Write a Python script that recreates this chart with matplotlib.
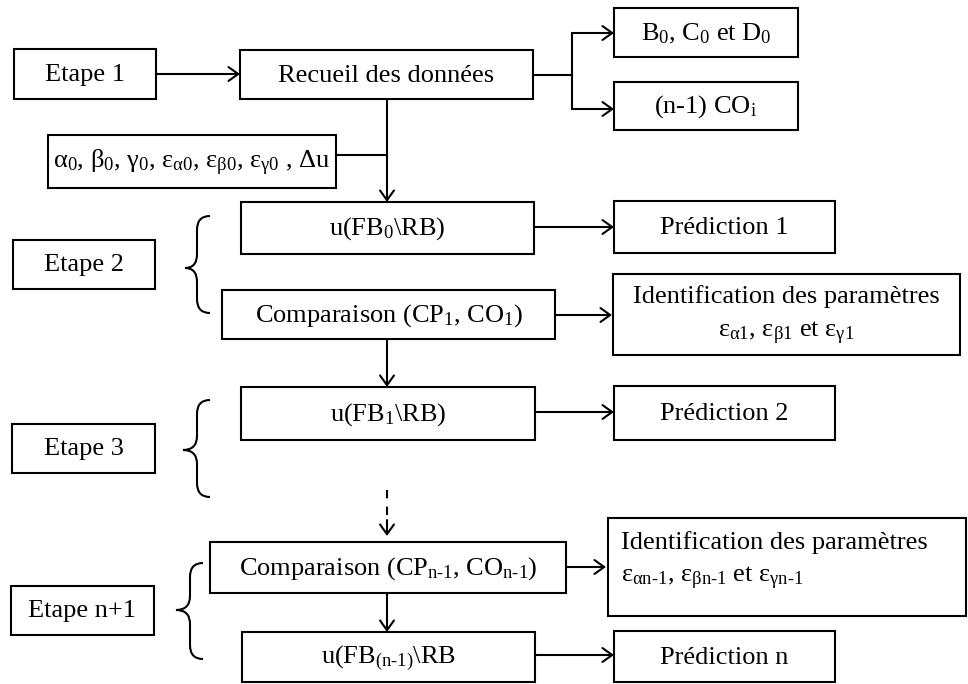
import matplotlib.pyplot as plt
from matplotlib.patches import Rectangle, FancyArrowPatch, PathPatch
from matplotlib.path import Path

plt.rcParams['font.family'] = ['Liberation Serif', 'DejaVu Serif']
plt.rcParams['mathtext.fontset'] = 'custom'
plt.rcParams['mathtext.rm'] = 'Liberation Serif'
plt.rcParams['mathtext.it'] = 'Liberation Serif:italic'
plt.rcParams['mathtext.bf'] = 'Liberation Serif:bold'

# box labels
step_labels = ['Etape 1', 'Etape 2', 'Etape 3', 'Etape n+1']
main_labels = ['Recueil des données',
               r'u(FB$_0$\RB)',
               r'Comparaison (CP$_1$, CO$_1$)',
               r'u(FB$_1$\RB)',
               r'Comparaison (CP$_{\mathrm{n‐1}}$, CO$_{\mathrm{n‐1}}$)',
               r'u(FB$_{\mathrm{(n‐1)}}$\RB']
data_labels = [r'B$_0$, C$_0$ et D$_0$', r'(n-1) CO$_\mathrm{i}$']
init_label = r'α$_0$, β$_0$, γ$_0$, ε$_{\mathrm{α0}}$, ε$_{\mathrm{β0}}$, ε$_{\mathrm{γ0}}$ , Δu'
pred_labels = ['Prédiction 1', 'Prédiction 2', 'Prédiction n']
ident_title = 'Identification des paramètres'
ident_params = [r'ε$_{\mathrm{α1}}$, ε$_{\mathrm{β1}}$ et ε$_{\mathrm{γ1}}$',
                r'ε$_{\mathrm{αn‐1}}$, ε$_{\mathrm{βn‐1}}$ et ε$_{\mathrm{γn‐1}}$']

# geometry (pixels): x0, y0, x1, y1
step_boxes = [(14, 49, 156, 99), (13, 240, 155, 289), (12, 424, 155, 473), (11, 586, 154, 635)]
main_boxes = [(240, 50, 533, 99), (241, 202, 534, 254), (222, 290, 555, 339),
              (241, 387, 535, 440), (210, 542, 566, 593), (242, 632, 535, 682)]
data_boxes = [(614, 8, 798, 57), (614, 82, 798, 130)]
init_box = (48, 135, 336, 188)
pred_boxes = [(614, 201, 835, 253), (614, 386, 835, 440), (614, 631, 835, 682)]
ident_boxes = [(613, 274, 960, 355), (608, 518, 966, 616)]
braces = [(210, 197, 185, 216, 268, 313), (210, 197, 183, 400, 450, 497),
          (203, 190, 176, 563, 610, 659)]

fig = plt.figure(figsize=(9.68, 6.84), dpi=100)
ax = fig.add_axes([0, 0, 1, 1])
ax.set_xlim(0, 968)
ax.set_ylim(684, 0)
ax.axis('off')

FS = 19
LW = 1.5


def box(b, label=None, fs=FS):
    x0, y0, x1, y1 = b
    ax.add_patch(Rectangle((x0, y0), x1 - x0, y1 - y0, fill=False, lw=LW, ec='black'))
    if label is not None:
        ax.text((x0 + x1) / 2, (y0 + y1) / 2 + 1, label, ha='center', va='center', fontsize=fs)


def arrow(p0, p1, ls='-'):
    ax.add_patch(FancyArrowPatch(p0, p1, arrowstyle='->,head_length=7,head_width=5',
                                 lw=LW, color='black', shrinkA=0, shrinkB=0,
                                 mutation_scale=1, linestyle=ls))


def line(xs, ys, ls='-'):
    ax.plot(xs, ys, color='black', lw=LW, ls=ls, solid_capstyle='projecting')


def brace(xr, xb, xl, yt, ym, yb):
    r = 14
    verts = [(xr, yt), (xb, yt), (xb, yt + r),
             (xb, ym - r), (xb, ym), (xl, ym),
             (xb, ym), (xb, ym + r),
             (xb, yb - r), (xb, yb), (xr, yb)]
    codes = [Path.MOVETO, Path.CURVE3, Path.CURVE3,
             Path.LINETO, Path.CURVE3, Path.CURVE3,
             Path.CURVE3, Path.CURVE3,
             Path.LINETO, Path.CURVE3, Path.CURVE3]
    ax.add_patch(PathPatch(Path(verts, codes), fill=False, lw=LW, ec='black'))


for b, t in zip(step_boxes, step_labels):
    box(b, t)
for b, t in zip(main_boxes, main_labels):
    box(b, t)
for b, t in zip(data_boxes, data_labels):
    box(b, t)
box(init_box, init_label)
for b, t in zip(pred_boxes, pred_labels):
    box(b, t)

# identification boxes
b = ident_boxes[0]
box(b)
cx = (b[0] + b[2]) / 2
ax.text(cx, 297, ident_title, ha='center', va='center', fontsize=FS)
ax.text(cx, 333, ident_params[0], ha='center', va='center', fontsize=FS)
b = ident_boxes[1]
box(b)
ax.text(621, 543, ident_title, ha='left', va='center', fontsize=FS)
ax.text(621, 578, ident_params[1], ha='left', va='center', fontsize=FS)

for br in braces:
    brace(*br)

xc = 387
# Etape 1 -> Recueil
arrow((156, 74), (240, 74))
# Recueil -> data boxes
line([533, 572], [75, 75])
line([572, 572], [33, 109])
arrow((572, 33), (614, 33))
arrow((572, 109), (614, 109))
# vertical chain
line([336, xc], [155, 155])
arrow((xc, 99), (xc, 202))
arrow((534, 227), (614, 227))
arrow((555, 315), (612, 315))
arrow((xc, 339), (xc, 387))
arrow((535, 412), (614, 412))
line([xc, xc], [490, 522], ls=(0, (4, 4)))
arrow((xc, 520), (xc, 536))
arrow((566, 567), (606, 567))
arrow((xc, 593), (xc, 632))
arrow((535, 655), (614, 655))

fig.savefig('out.png', dpi=100)
